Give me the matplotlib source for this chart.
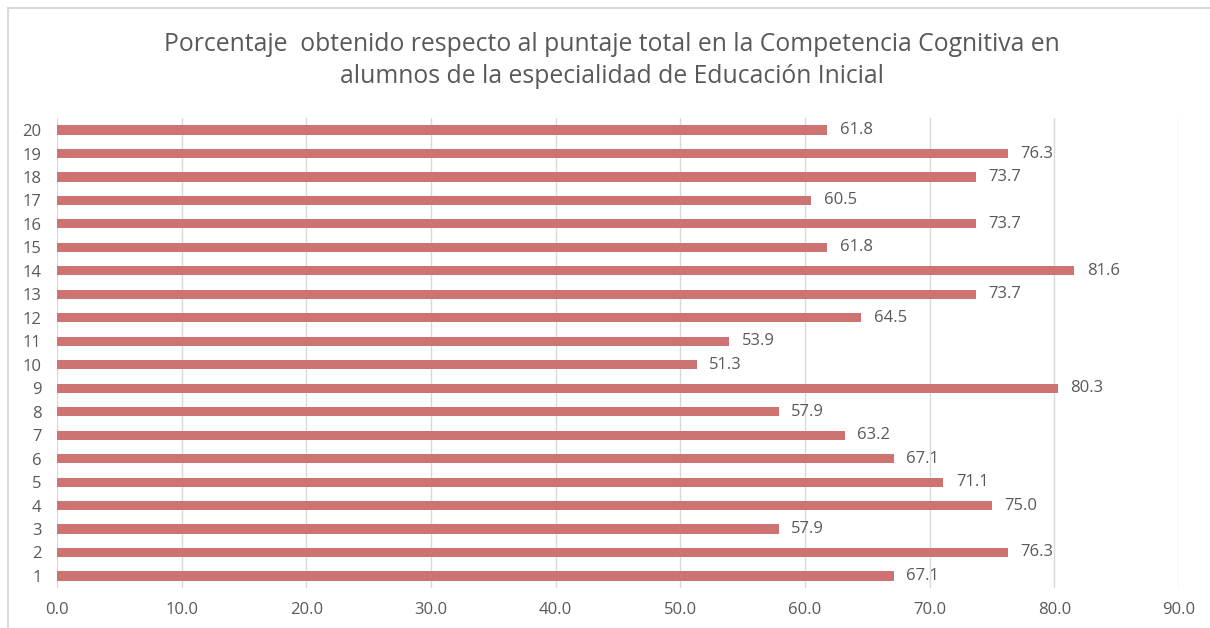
import matplotlib
matplotlib.use("Agg")
import matplotlib.pyplot as plt
from matplotlib.lines import Line2D

plt.rcParams['font.family'] = ['Open Sans', 'DejaVu Sans']

categories = [str(i) for i in range(1, 21)]
values = [67.1, 76.3, 57.9, 75.0, 71.1, 67.1, 63.2, 57.9, 80.3, 51.3,
          53.9, 64.5, 73.7, 81.6, 61.8, 73.7, 60.5, 73.7, 76.3, 61.8]
xticks = [0, 10, 20, 30, 40, 50, 60, 70, 80, 90]
title = ("Porcentaje  obtenido respecto al puntaje total en la Competencia Cognitiva en\n"
         "alumnos de la especialidad de Educación Inicial")

bar_color = '#CD7371'
text_color = '#595959'
grid_color = '#D9D9D9'

fig = plt.figure(figsize=(12.10, 6.28), dpi=100)
ax = fig.add_axes([57/1210, 1 - 587.7/628, (1179 - 57)/1210, (587.7 - 118.3)/628])

ypos = list(range(1, 21))
ax.barh(ypos, values, height=0.39, color=bar_color, zorder=3)
for y, v in zip(ypos, values):
    ax.annotate(f"{v:.1f}", (v, y), xytext=(9, 0), textcoords='offset points',
                ha='left', va='center', fontsize=12, color=text_color)

ax.set_xlim(0, 90)
ax.set_ylim(0.5, 20.5)
ax.set_xticks(xticks)
ax.set_xticklabels([f"{t:.1f}" for t in xticks])
ax.set_yticks(ypos)
ax.set_yticklabels(categories)
ax.tick_params(axis='both', length=0, labelsize=12, labelcolor=text_color)
ax.tick_params(axis='y', pad=11)
ax.tick_params(axis='x', pad=10.5)
ax.grid(axis='x', color=grid_color, linewidth=1, zorder=0)
for s in ax.spines.values():
    s.set_visible(False)

fig.text(0.506, 1 - 60.5/628, title, ha='center', va='center', fontsize=17.8,
         color=text_color, linespacing=1.38)

# chart border
fig.add_artist(Line2D([8/1210, 8/1210], [0, 1 - 8/628], transform=fig.transFigure,
                      color='#D9D9D9', linewidth=1.5))
fig.add_artist(Line2D([8/1210, 1], [1 - 8/628, 1 - 8/628], transform=fig.transFigure,
                      color='#D9D9D9', linewidth=1.5))

fig.savefig("out.png", dpi=100, facecolor='white')
